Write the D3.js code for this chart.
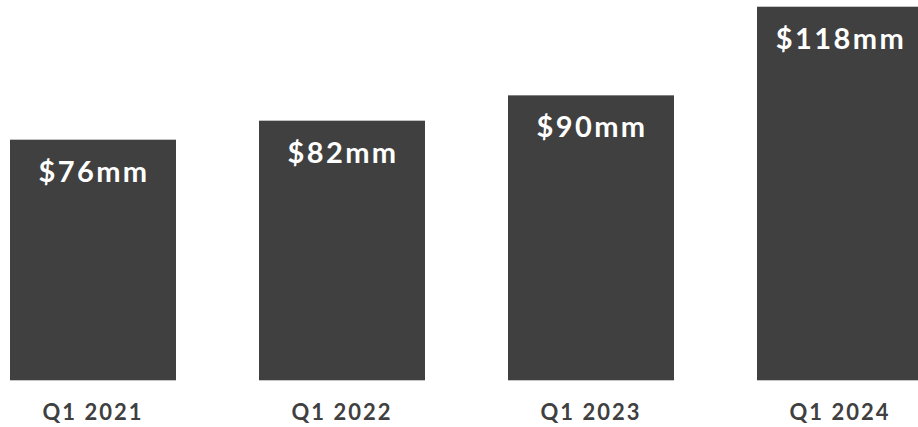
<!DOCTYPE html>
<html>
<head>
<meta charset="utf-8">
<script src="https://cdn.jsdelivr.net/npm/d3@7"></script>
<style>
  html, body { margin: 0; padding: 0; background: #fff; }
  svg { display: block; }
</style>
</head>
<body>
<div id="chart"></div>
<script>
// Quarterly figures, $mm
const quarters = ["Q1 2021", "Q1 2022", "Q1 2023", "Q1 2024"];
const values = [76, 82, 90, 118];
const valueLabels = ["$76mm", "$82mm", "$90mm", "$118mm"];

const width = 918;
const height = 427;
const barColor = "#404040";
const font = "Lato, 'Open Sans', sans-serif";

const x = d3.scaleBand()
    .domain(quarters)
    .range([10, 923])
    .paddingInner(1 / 3)
    .paddingOuter(0);

const y = d3.scaleLinear()
    .domain([0, 118])
    .range([380.3, 6.7]);

const svg = d3.select("#chart").append("svg")
    .attr("width", width)
    .attr("height", height);

const rows = quarters.map((q, i) => ({q, v: values[i], label: valueLabels[i]}));

svg.append("g")
  .selectAll("rect")
  .data(rows)
  .join("rect")
    .attr("x", d => x(d.q))
    .attr("y", d => y(d.v))
    .attr("width", x.bandwidth())
    .attr("height", d => y(0) - y(d.v))
    .attr("fill", barColor);

// value labels inside the top of each bar
svg.append("g")
  .selectAll("text")
  .data(rows)
  .join("text")
    .attr("x", d => x(d.q) + x.bandwidth() / 2 + 1)
    .attr("y", d => y(d.v) + 42)
    .attr("text-anchor", "middle")
    .attr("fill", "#fff")
    .style("font", `700 29px ${font}`)
    .style("letter-spacing", "2.4px")
    .text(d => d.label);

// category labels under the bars
svg.append("g")
  .selectAll("text")
  .data(quarters)
  .join("text")
    .attr("x", d => x(d) + x.bandwidth() / 2)
    .attr("y", 419.5)
    .attr("text-anchor", "middle")
    .attr("fill", "#404040")
    .style("font", `700 22px ${font}`)
    .style("letter-spacing", "2px")
    .text(d => d);
</script>
</body>
</html>
